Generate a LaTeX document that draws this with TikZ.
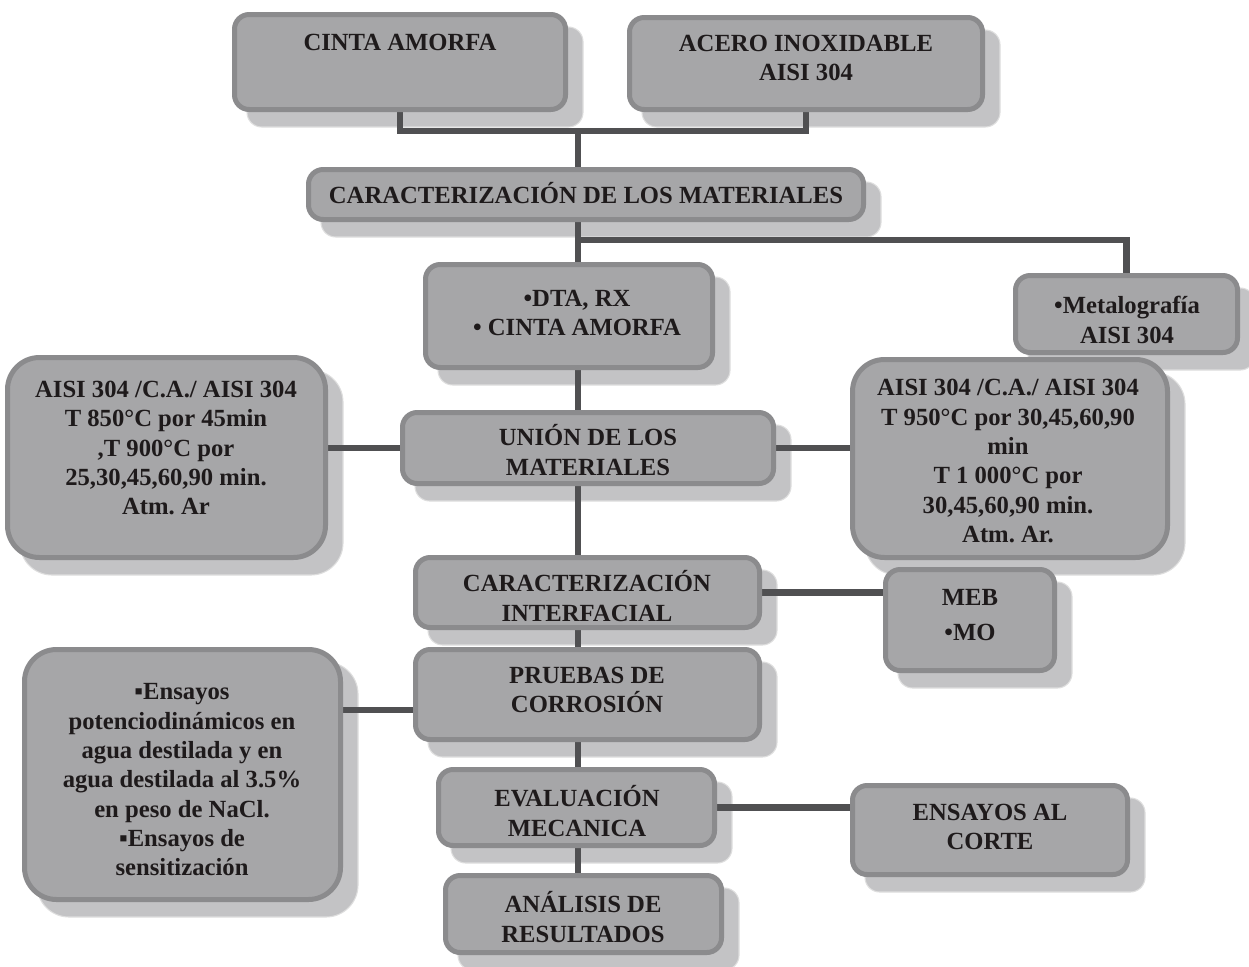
\documentclass[tikz,border=0pt]{standalone}
\usepackage{fontspec}
\setmainfont{Liberation Serif}
\frenchspacing
\usetikzlibrary{fit}
\definecolor{boxfill}{HTML}{A6A6A8}
\definecolor{boxline}{HTML}{8B8B8D}
\definecolor{shadefill}{HTML}{C3C3C5}
\definecolor{shadeline}{HTML}{DEDEDE}
\definecolor{linkcol}{HTML}{505052}
\definecolor{inkcol}{HTML}{1E1A1B}
\pgfdeclarelayer{background}
\pgfsetlayers{background,main}
\tikzset{
  flowbox/.style={draw=boxline, fill=boxfill, line width=3.75pt, rounded corners=11pt, inner sep=0pt},
  bigbox/.style={flowbox, rounded corners=24pt},
  shade/.style={fill=shadefill, draw=shadeline, line width=0.8pt},
  link/.style={draw=linkcol, line width=5pt},
  label/.style={text=inkcol, font=\fontsize{18.5}{22}\selectfont\bfseries, align=center, inner sep=0pt}
}
% box from outer corner (x1,y1) to (x2,y2), in pixel units
\newcommand\flowbox[6][flowbox]{\node[#1, fit={(#3+2.5,#4+2.5) (#5-2.5,#6-2.5)}] (#2) {};}
% offset shadow behind a box
\newcommand\boxshade[2][11pt]{\fill[shade, rounded corners=#1] ([shift={(15,15)}]#2.south west) rectangle ([shift={(15,15)}]#2.north east);}
\begin{document}
\begin{tikzpicture}[x=0.75pt, y=-0.75pt]
\useasboundingbox (0,0) rectangle (1249,967);
\clip (0,0) rectangle (1249,967);

% boxes
\flowbox{ca}{232}{12}{568}{112}
\flowbox{ac}{627}{15}{985}{112}
\flowbox{cm}{306}{167}{866}{222}
\flowbox{dta}{423}{262}{715}{370}
\flowbox{met}{1013}{273}{1240}{355}
\flowbox[bigbox]{lb}{5}{355}{328}{560}
\flowbox{un}{400}{410}{776}{486}
\flowbox[bigbox]{rb}{850}{357}{1170}{560}
\flowbox{ci}{413}{555}{762}{630}
\flowbox{meb}{883}{567}{1057}{673}
\flowbox{pr}{413}{647}{762}{742}
\flowbox[bigbox]{en}{22}{647}{343}{902}
\flowbox{ev}{436}{767}{717}{848}
\flowbox{ens}{850}{783}{1130}{877}
\flowbox{an}{443}{873}{724}{955}

% texts
\node[label] (ca-t) at (400,42) {CINTA AMORFA};
\node[label] (ac-t) at (806,58) {ACERO INOXIDABLE\\AISI 304};
\node[label] (cm-t) at (586,193) {CARACTERIZACIÓN DE LOS MATERIALES};
\node[label] (dta-t) at (577,313) {•DTA, RX\\• CINTA AMORFA};
\node[label] (met-t) at (1127,320) {•Metalografía\\AISI 304};
\node[label] (lb-t) at (166,448) {AISI 304 /C.A./ AISI 304\\T 850°C por 45min\\,T 900°C por\\25,30,45,60,90 min.\\Atm. Ar};
\node[label] (un-t) at (588,450) {UNIÓN DE LOS\\MATERIALES};
\node[label] (rb-t) at (1008,461) {AISI 304 /C.A./ AISI 304\\T 950°C por 30,45,60,90\\min\\T 1 000°C por\\30,45,60,90 min.\\Atm. Ar.};
\node[label] (ci-t) at (587,596) {CARACTERIZACIÓN\\INTERFACIAL};
\node[label, font=\fontsize{18.5}{26}\selectfont\bfseries] (meb-t) at (970,615) {MEB\\•MO};
\node[label] (pr-t) at (587,690) {PRUEBAS DE\\CORROSIÓN};
\node[label] (en-t) at (182,780) {▪Ensayos\\potenciodinámicos en\\agua destilada y en\\agua destilada al 3.5\%\\en peso de NaCl.\\▪Ensayos de\\sensitización};
\node[label] (ev-t) at (577,811) {EVALUACIÓN\\MECANICA};
\node[label] (ens-t) at (990,827) {ENSAYOS AL\\CORTE};
\node[label] (an-t) at (583,917) {ANÁLISIS DE\\RESULTADOS};

% junction points of the trunk
\coordinate (j1) at (578,131);
\coordinate (j2) at (578,240);
\coordinate (j3) at (0,710);

\begin{pgfonlayer}{background}
  % shadows
  \foreach \b in {ca,ac,cm,dta,met,un,ci,meb,pr,ev,ens,an} {\boxshade{\b}}
  \foreach \b in {lb,rb,en} {\boxshade[24pt]{\b}}
  % connectors
  \draw[link] (ca.south) |- (j1) -| (ac.south);
  \draw[link] (j1) -- (j1 |- cm.north);
  \draw[link] (cm.south -| j1) -- (dta.north -| j1);
  \draw[link] (j2) -| (met.north);
  \draw[link] (dta.south -| j1) -- (un.north -| j1);
  \draw[link] (un.west) -- (un.west -| lb.east);
  \draw[link] (un.east) -- (un.east -| rb.west);
  \draw[link] (un.south -| j1) -- (ci.north -| j1);
  \draw[link] (ci.east) -- (ci.east -| meb.west);
  \draw[link] (ci.south -| j1) -- (pr.north -| j1);
  \draw[link] (pr.west |- j3) -- (en.east |- j3);
  \draw[link] (pr.south -| j1) -- (ev.north -| j1);
  \draw[link] (ev.east) -- (ev.east -| ens.west);
  \draw[link] (ev.south -| j1) -- (an.north -| j1);
\end{pgfonlayer}
\end{tikzpicture}
\end{document}
